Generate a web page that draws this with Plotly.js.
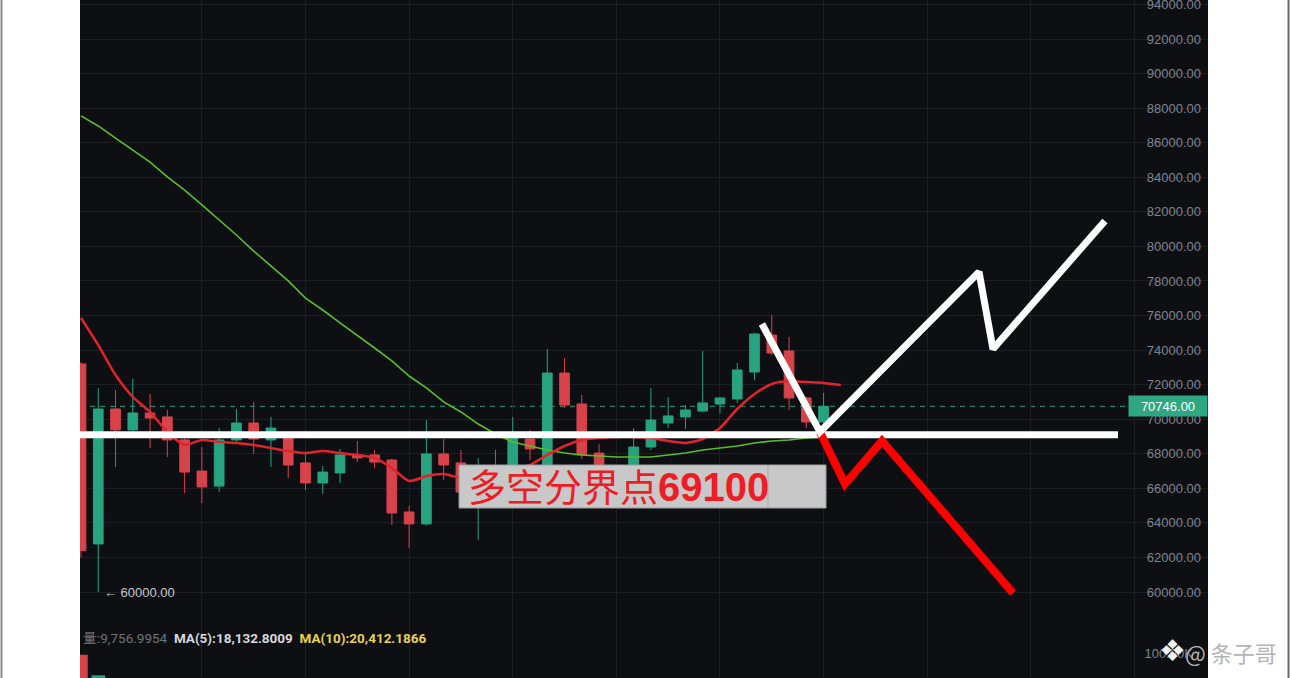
<!DOCTYPE html>
<html><head><meta charset="utf-8">
<script src="https://cdn.plot.ly/plotly-3.0.1.min.js"></script>
<style>html,body{margin:0;padding:0;background:#fff;overflow:hidden}#chart{width:1290px;height:678px}</style>
</head><body><div id="chart"></div>
<script>
// ---- data ----
const candleIdx = [0,1,2,3,4,5,6,7,8,9,10,11,12,13,14,15,16,17,18,19,20,21,22,23,24,25,26,27,28,29,30,31,32,33,34,35,36,37,38,39,40,41,42,43];
const openP  = [73200,62780,70590,69380,70360,70130,68800,67000,66130,68800,69780,68800,68910,67470,66310,66890,67930,67930,67640,64630,63940,67990,67470,65800,67200,66900,68850,67100,72670,70880,68040,66900,67230,68390,69780,70130,70470,70880,71170,72730,74870,73950,71230,69840];
const highP  = [73300,71800,71690,72330,71460,70530,68900,68390,69490,70590,71000,70130,69000,68100,67290,68280,68740,68220,67700,64980,69950,68850,68220,67750,68220,70130,69380,74060,73540,71400,68570,67300,69490,71800,71280,70820,73950,71290,73250,75000,76030,74760,71300,71520];
const lowP   = [62000,60000,67230,69300,68330,67810,65730,65150,65790,68700,67990,67230,66600,65900,65670,66310,67520,67180,63880,62550,63850,66480,65600,63000,65900,66500,67640,66700,70650,67700,66900,66600,66900,68200,69490,69430,70400,70360,70940,72270,73700,70530,69490,69500];
const closeP = [62400,70590,69380,70360,70070,68800,66940,66080,68800,69780,68850,69490,67350,66310,66940,67930,67760,67520,64570,63940,67990,67350,65790,67200,66400,68910,68280,72670,70820,67930,67230,67100,68390,69950,70190,70530,70940,71230,72850,74930,73830,71230,69840,70746];

const maFastIdx = [0,1,2,3,4,5,6,7,8,9,10,11,12,13,14,15,16,17,18,19,20,21,22,23,24,25,26,27,28,29,30,31,32,33,34,35,36,37,38,39,40,41,42,43,44];
const maFast = [75860,74290,72560,71290,70420,69260,68510,68800,68680,68620,68510,68330,68160,68040,68160,68040,67930,67760,67180,66420,66710,66830,66600,66600,66830,67060,67350,67930,68450,68800,68910,68970,68970,68910,68740,68620,68850,69490,70590,71460,72040,72210,72150,72100,71980];
const maSlow = [87550,86970,86270,85580,84880,84020,83260,82400,81530,80660,79730,78870,78000,77010,76320,75570,74870,74120,73370,72500,71810,71000,70420,69720,69140,68680,68450,68220,68040,67930,67870,67810,67810,67810,67930,68040,68220,68330,68450,68620,68740,68800,68910,68970];

const volIdx = [0,1];
const volume = [99000,87500];

const pivotLevel = 69100;
const pivotSpan = [-1, 60.05];
const bullPathX = [39.43, 42.79, 52.0, 52.81, 59.29];
const bullPathY = [75510, 69260, 78520, 74060, 81470];
const bearPathX = [42.79, 44.24, 46.38, 53.97];
const bearPathY = [69260, 66250, 68740, 59940];

const lastPrice = 70746;
const lowMarkIdx = 1;
const lowMark = 60000;
const priceTicks = [60000,62000,64000,66000,68000,70000,72000,74000,76000,78000,80000,82000,84000,86000,88000,90000,92000,94000];
const volTicks = [100000];
const volTickText = ['100.00K'];
const gridIdx = [7,13,19,25,31,37,43,49,55,61];
const statVol = '量:9,756.9954';
const statMa5 = 'MA(5):18,132.8009';
const statMa10 = 'MA(10):20,412.1866';
const pivotLabel = '多空分界点';
const author = '@ 条子哥';

// ---- colours ----
const UP = '#27a37f', DOWN = '#d8434b';

const traces = [
  {type:'candlestick', x:candleIdx, open:openP, high:highP, low:lowP, close:closeP,
   increasing:{line:{color:UP,width:1}, fillcolor:UP},
   decreasing:{line:{color:DOWN,width:1}, fillcolor:DOWN},
   whiskerwidth:0, hoverinfo:'skip'},
  {type:'bar', x:volIdx, y:volume, yaxis:'y2', width:0.78,
   marker:{color:[DOWN,UP]}, hoverinfo:'skip'},
  {type:'scatter', mode:'lines', x:candleIdx, y:maSlow, line:{color:'#5bbd2b',width:1.6}, hoverinfo:'skip'},
  {type:'scatter', mode:'lines', x:maFastIdx, y:maFast, line:{color:'#e1242c',width:2.5,shape:'spline',smoothing:0.6}, hoverinfo:'skip'},
  {type:'scatter', mode:'lines', x:pivotSpan, y:[pivotLevel,pivotLevel], line:{color:'#ffffff',width:7}, hoverinfo:'skip'},
  {type:'scatter', mode:'lines', x:bearPathX, y:bearPathY, line:{color:'#ff0000',width:8}, hoverinfo:'skip'},
  {type:'scatter', mode:'lines', x:bullPathX, y:bullPathY, line:{color:'#ffffff',width:7}, hoverinfo:'skip'}
];

const boxX0 = 21.89, boxX1 = 43.14, boxY0 = 64860, boxY1 = 67350;
const layout = {
  width:1290, height:678,
  margin:{l:80, r:82, t:0, b:0, pad:0},
  paper_bgcolor:'#ffffff', plot_bgcolor:'#0e0f13',
  showlegend:false, hovermode:false, boxgap:0.2,
  xaxis:{range:[-0.058,65.26], tickvals:gridIdx, showticklabels:false, ticks:'',
         showgrid:true, gridcolor:'#1c1f26', gridwidth:1, zeroline:false, showline:false,
         rangeslider:{visible:false}, fixedrange:true},
  yaxis:{range:[55023,94259], side:'right', ticklabelposition:'inside', ticks:'',
         tickvals:priceTicks, ticktext:priceTicks.map(v=>v.toFixed(2)),
         tickfont:{family:'Liberation Sans, Arial, sans-serif', size:13, color:'#7f848e'},
         ticklabelstandoff:4, ticklabeloverflow:'allow',
         showgrid:true, gridcolor:'#1c1f26', zeroline:false, showline:false, fixedrange:true},
  yaxis2:{domain:[0,0.1], range:[86000,124000], side:'right', ticklabelposition:'inside', ticks:'',
          tickvals:volTicks, ticktext:volTickText, ticklabelstandoff:12,
          tickfont:{family:'Liberation Sans, Arial, sans-serif', size:13, color:'#7f848e'},
          showgrid:false, zeroline:false, showline:false, anchor:'x', fixedrange:true},
  shapes:[
    {type:'line', xref:'paper', x0:0, x1:0.9309, yref:'y', y0:lastPrice, y1:lastPrice,
     line:{color:'#2a9d80', width:1, dash:'5px,5px'}, layer:'below'},
    {type:'rect', xref:'x', yref:'y', x0:boxX0, x1:boxX1, y0:boxY0, y1:boxY1,
     fillcolor:'#c8c8c8', line:{color:'#9c9c9c', width:1}, layer:'above'},
    {type:'line', xref:'x', yref:'y', x0:39.78, x1:39.78, y0:boxY0, y1:boxY1,
     line:{color:'#a8a8a8', width:1}, layer:'above'},
    {type:'line', xref:'paper', yref:'paper', x0:-0.0696, x1:-0.0696, y0:0, y1:1, line:{color:'#8a8a8a', width:2}},
    {type:'line', xref:'paper', yref:'paper', x0:1.0714, x1:1.0714, y0:0, y1:1, line:{color:'#6a6a6a', width:2}}
  ],
  annotations:[
    {xref:'x', yref:'y', x:boxX0+0.4, y:(boxY0+boxY1)/2, xanchor:'left', yanchor:'middle', showarrow:false,
     text:pivotLabel+'<span style="font-size:40px"><b>'+pivotLevel+'</b></span>',
     font:{family:'Liberation Sans, Noto Sans CJK SC, sans-serif', size:38, color:'#ee1c25'}},
    {xref:'paper', yref:'y', x:1, y:lastPrice, xanchor:'right', yanchor:'middle', showarrow:false,
     text:lastPrice.toFixed(2), bgcolor:'#2ea783', width:74, height:16, borderpad:2, align:'center',
     font:{family:'Liberation Sans, Arial, sans-serif', size:13, color:'#ffffff'}},
    {xref:'x', yref:'y', x:lowMarkIdx, y:lowMark, xanchor:'left', yanchor:'middle', xshift:4, showarrow:false,
     text:'← '+lowMark.toFixed(2),
     font:{family:'Liberation Sans, Arial, sans-serif', size:13, color:'#c4c7cd'}},
    {xref:'paper', yref:'paper', x:0.0005, y:0.059, xanchor:'left', yanchor:'middle', showarrow:false,
     text:'<span style="color:#6f737b">'+statVol+'</span>  <span style="color:#d5d8dd"><b>'+statMa5+'</b></span>  <span style="color:#e6d34a"><b>'+statMa10+'</b></span>',
     font:{family:'Roboto, Liberation Sans, sans-serif', size:13.5}},
    {xref:'paper', yref:'paper', x:0.9548, y:0.04, xanchor:'left', yanchor:'middle', showarrow:false,
     text:'❖', font:{family:'DejaVu Sans', size:30, color:'#f2f2f2'}},
    {xref:'paper', yref:'paper', x:0.978, y:0.038, xanchor:'left', yanchor:'middle', showarrow:false,
     text:author, font:{family:'Noto Sans CJK SC, sans-serif', size:22, color:'#b4b4b4'}}
  ]
};

Plotly.newPlot('chart', traces, layout, {staticPlot:true, displayModeBar:false});
</script>
</body></html>
